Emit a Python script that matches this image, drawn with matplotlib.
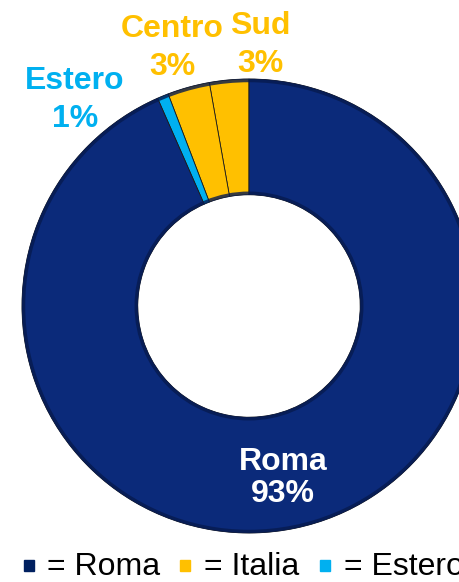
import matplotlib
matplotlib.use("Agg")
import matplotlib.pyplot as plt
from matplotlib.patches import Rectangle, Circle

# data (counterclockwise from top)
categories = ["Sud", "Centro", "Estero", "Roma"]
values = [2.8, 3.0, 0.8, 93.4]
pct_labels = ["3%", "3%", "1%", "93%"]
slice_colors = ["#FFC000", "#FFC000", "#00B0F0", "#0B2A7A"]
label_colors = ["#FFC000", "#FFC000", "#00B0F0", "white"]
legend_names = ["Roma", "Italia", "Estero"]
legend_colors = ["#002060", "#FFC000", "#00B0F0"]

W, H = 460, 582
fig = plt.figure(figsize=(W / 100, H / 100), dpi=100)
ax = fig.add_axes([0, 0, 1, 1])

cx, cy, R = 249, H - 306, 227
ring_w = R * 0.51
wedges, _ = ax.pie(values, colors=slice_colors, startangle=90, counterclock=True,
                   radius=R, center=(cx, cy),
                   wedgeprops=dict(width=ring_w, edgecolor="#1a1a1a", linewidth=0.6))
# darker rims for a slight bevel look
ax.add_patch(Circle((cx, cy), R - 1.5, fill=False, edgecolor="#061a4f", linewidth=2.5, alpha=0.8))
ax.add_patch(Circle((cx, cy), R - ring_w + 1.5, fill=False, edgecolor="#061a4f", linewidth=2.5, alpha=0.8))
ax.set_xlim(0, W)
ax.set_ylim(0, H)
ax.set_aspect("equal")
ax.axis("off")

# labels (pixel positions of text centres)
pos = {"Sud": (260, 45), "Centro": (172, 48), "Estero": (75, 100), "Roma": (283, 478)}
font = ["Liberation Sans", "DejaVu Sans"]
for name, pl, col in zip(categories, pct_labels, label_colors):
    x, y = pos[name]
    ls = 1.35 if name != "Roma" else 1.1
    ax.text(x, H - y, f"{name}\n{pl}", color=col, fontsize=23, fontweight="bold",
            ha="center", va="center", family=font, linespacing=ls)

# legend
ly = H - 567
items_x = [(24, 47), (180, 204), (320, 344)]
for (sx, tx), nm, col in zip(items_x, legend_names, legend_colors):
    ax.add_patch(Rectangle((sx, ly - 4), 10, 11, color=col, clip_on=False))
    ax.text(tx, ly, f"= {nm}", fontsize=23, ha="left", va="center",
            family=font, color="black")

fig.savefig("out.png", dpi=100)
